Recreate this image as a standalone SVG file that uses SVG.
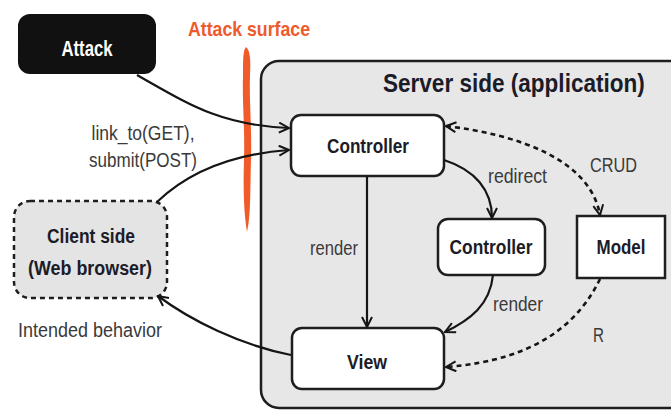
<svg xmlns="http://www.w3.org/2000/svg" width="671" height="410" viewBox="0 0 671 410">
<style>
.bold{font-family:"Liberation Sans",Arial,sans-serif;font-weight:bold;fill:#1c1c28}
.lbl{font-family:"Liberation Sans",Arial,sans-serif;fill:#3a3a3a;font-size:20px}
.box{fill:#ffffff;stroke:#1e1e1e;stroke-width:2.5}
.con{fill:none;stroke:#151515;stroke-width:2.2}
.dash{fill:none;stroke:#151515;stroke-width:2.6;stroke-dasharray:5 4}
</style>
<defs>
<marker id="ah" viewBox="0 0 12 12" refX="11" refY="6" markerWidth="12" markerHeight="12" markerUnits="userSpaceOnUse" orient="auto-start-reverse">
<path d="M1,1 L11,6 L1,11" fill="none" stroke="#151515" stroke-width="2"/>
</marker>
</defs>
<rect width="671" height="410" fill="#ffffff"/>

<g id="server">
<path d="M681,61 L279,61 A18,18 0 0 0 261,79 L261,390 A18,18 0 0 0 279,408 L681,408" fill="#e7e7e7" stroke="#1e1e1e" stroke-width="2.5"/>
<text class="bold" transform="translate(383,92) scale(0.867,1)" x="0" y="0" font-size="26">Server side (application)</text>
</g>

<g id="surface">
<path d="M246,47 C250,50 251,60 250,75 C249,100 252,130 251,160 C250,190 251,215 247,232 C244,215 243,190 244,160 C245,130 242,100 243,75 C243,60 243,50 246,47 Z" fill="#f15a29"/>
<text x="188" y="36" font-family="Liberation Sans,Arial,sans-serif" font-weight="bold" font-size="21" fill="#ee5a2c" textLength="122" lengthAdjust="spacingAndGlyphs">Attack surface</text>
</g>

<g id="attack">
<rect x="19" y="15" width="136" height="58" rx="11" fill="#111111" stroke="#111111" stroke-width="2"/>
<text x="87" y="56" text-anchor="middle" font-family="Liberation Sans,Arial,sans-serif" font-weight="bold" font-size="22" fill="#ffffff" textLength="51" lengthAdjust="spacingAndGlyphs">Attack</text>
</g>

<g id="client">
<rect x="14" y="201" width="153" height="97" rx="16" fill="#e4e4e4" stroke="#1e1e1e" stroke-width="2.5" stroke-dasharray="5 4"/>
<text class="bold" x="91" y="243" text-anchor="middle" font-size="20" textLength="88" lengthAdjust="spacingAndGlyphs">Client side</text>
<text class="bold" x="90" y="275" text-anchor="middle" font-size="20" textLength="124" lengthAdjust="spacingAndGlyphs">(Web browser)</text>
</g>

<g id="controller1">
<rect class="box" x="291" y="115" width="153" height="61" rx="10"/>
<text class="bold" x="368" y="153" text-anchor="middle" font-size="20" textLength="82" lengthAdjust="spacingAndGlyphs">Controller</text>
</g>

<g id="controller2">
<rect class="box" x="438" y="219" width="107" height="56" rx="10"/>
<text class="bold" x="491" y="254" text-anchor="middle" font-size="20" textLength="83" lengthAdjust="spacingAndGlyphs">Controller</text>
</g>

<g id="model">
<rect class="box" x="577" y="216" width="88" height="62"/>
<text class="bold" x="621" y="254" text-anchor="middle" font-size="20" textLength="49" lengthAdjust="spacingAndGlyphs">Model</text>
</g>

<g id="view">
<rect class="box" x="292" y="328" width="152" height="61" rx="10"/>
<text class="bold" x="367" y="369" text-anchor="middle" font-size="20" textLength="40" lengthAdjust="spacingAndGlyphs">View</text>
</g>

<g id="connectors">
<path class="con" d="M137,75 C190,105 220,125 289,128" marker-end="url(#ah)"/>
<path class="con" d="M157,202 C180,180 220,155 289,150" marker-end="url(#ah)"/>
<path class="con" d="M291,355 C240,345 190,320 158,296" marker-end="url(#ah)"/>
<path class="con" d="M367,176 L367,327" marker-end="url(#ah)"/>
<path class="con" d="M444,160 C475,170 492,190 492,218" marker-end="url(#ah)"/>
<path class="con" d="M493,275 C490,305 470,320 445,332" marker-end="url(#ah)"/>
<path class="dash" d="M446,126 C520,135 590,160 600,215" marker-start="url(#ah)" marker-end="url(#ah)"/>
<path class="dash" d="M600,279 C580,320 540,360 446,367" marker-end="url(#ah)"/>
</g>

<g id="labels">
<text class="lbl" x="143" y="140" text-anchor="middle" textLength="103" lengthAdjust="spacingAndGlyphs">link_to(GET),</text>
<text class="lbl" x="143" y="167" text-anchor="middle" textLength="108" lengthAdjust="spacingAndGlyphs">submit(POST)</text>
<text class="lbl" x="18" y="337" font-size="21" textLength="144" lengthAdjust="spacingAndGlyphs">Intended behavior</text>
<text class="lbl" x="310" y="255" textLength="48" lengthAdjust="spacingAndGlyphs">render</text>
<text class="lbl" x="488" y="183" textLength="59" lengthAdjust="spacingAndGlyphs">redirect</text>
<text class="lbl" x="493" y="311" textLength="50" lengthAdjust="spacingAndGlyphs">render</text>
<text class="lbl" x="590" y="172" textLength="47" lengthAdjust="spacingAndGlyphs">CRUD</text>
<text class="lbl" x="593" y="342" textLength="11" lengthAdjust="spacingAndGlyphs">R</text>
</g>
</svg>
